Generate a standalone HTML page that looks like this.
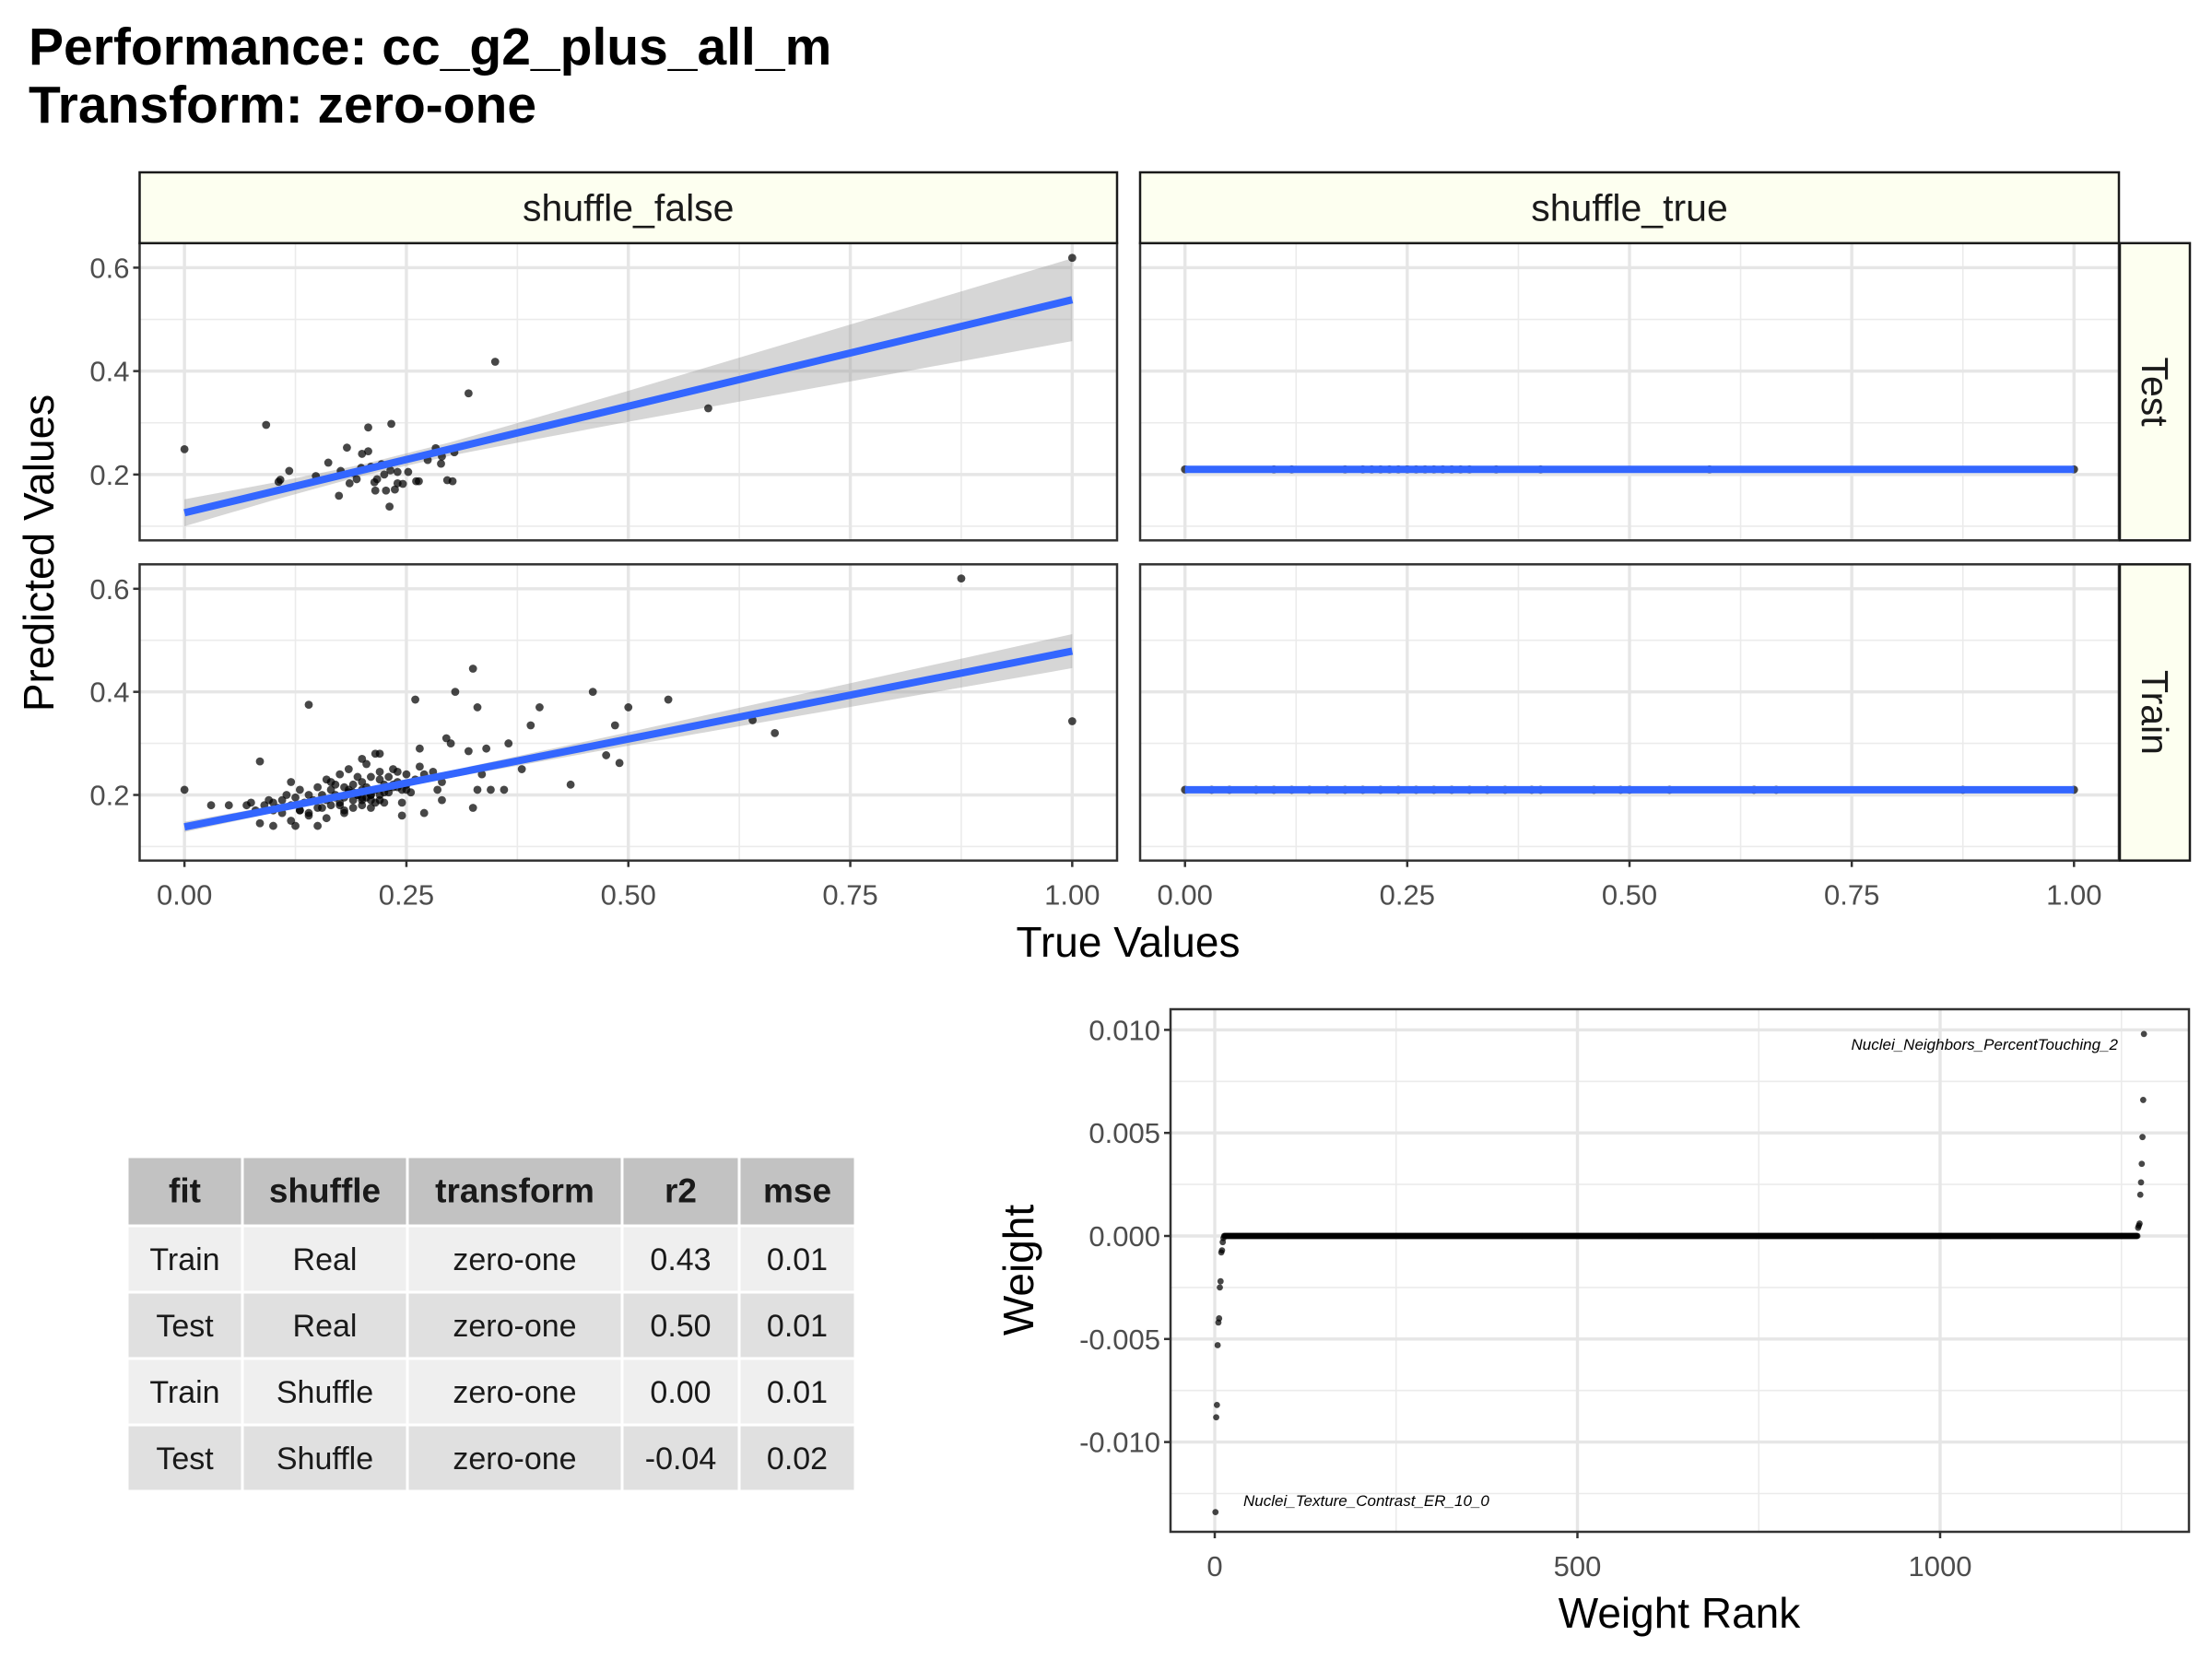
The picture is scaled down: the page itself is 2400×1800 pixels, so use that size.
<!DOCTYPE html>
<html><head><meta charset="utf-8"><style>
html,body{margin:0;padding:0;background:#fff;}
svg{display:block;font-family:"Liberation Sans",Arial,sans-serif;}
</style></head><body>
<svg id="fig" width="2400" height="1800" viewBox="0 0 2400 1800" xmlns="http://www.w3.org/2000/svg">
<rect x="0" y="0" width="2400" height="1800" fill="#fff"/>
<text x="31" y="70" font-size="57" font-weight="bold" fill="#000">Performance: cc_g2_plus_all_m</text>
<text x="31" y="133" font-size="57" font-weight="bold" fill="#000">Transform: zero-one</text>
<g id="plots"></g>
</svg>
<script>
// ---------- data ----------
const testRealX = [0,0.092,0.35,0.32,0.59,1.0,0.233,0.207,0.183,0.207,0.162,0.118,0.106,0.148,0.174,0.231,0.215,0.227,0.237,0.24,0.252,0.264,0.274,0.283,0.289,0.304,0.296,0.302,0.29,0.176,0.186,0.194,0.199,0.217,0.222,0.232,0.24,0.214,0.19,0.246,0.261,0.108,0.2,0.21,0.225];
const testRealY = [0.249,0.296,0.418,0.357,0.328,0.619,0.298,0.291,0.252,0.245,0.223,0.207,0.186,0.197,0.159,0.138,0.169,0.169,0.171,0.183,0.205,0.187,0.228,0.251,0.221,0.243,0.189,0.187,0.235,0.207,0.183,0.191,0.213,0.191,0.22,0.208,0.205,0.185,0.203,0.182,0.187,0.19,0.24,0.215,0.2];
const trainRealX = [0,0.03,0.05,0.085,0.085,0.1,0.1,0.12,0.125,0.14,0.15,0.26,0.305,0.325,0.33,0.4,0.46,0.5,0.545,0.39,0.485,0.475,0.49,0.435,0.38,0.365,0.34,0.32,0.3,0.295,0.335,0.345,0.33,0.36,0.325,0.64,0.665,0.875,1.0,0.265,0.265,0.29,0.29,0.27,0.245,0.27,0.25,
0.07,0.075,0.08,0.09,0.095,0.1,0.105,0.11,0.115,0.12,0.125,0.13,0.13,0.135,0.14,0.14,0.145,0.15,0.15,0.155,0.16,0.16,0.165,0.165,0.17,0.17,0.175,0.175,0.18,0.18,0.18,0.185,0.185,0.19,0.19,0.19,0.195,0.195,0.2,0.2,0.2,0.2,0.205,0.205,0.21,0.21,0.21,0.215,0.215,0.22,0.22,0.22,0.225,0.225,0.23,0.23,0.235,0.235,0.24,0.24,0.245,0.25,0.255,0.26,0.28,0.285,0.24,0.22,0.2,0.18,0.16,0.14,0.12,0.11,0.17,0.19,0.21,0.23,0.25,0.155,0.175,0.195,0.215,0.235,0.13,0.2,0.21,0.22,0.185,0.165,0.205,0.225,0.245];
const trainRealY = [0.21,0.18,0.18,0.265,0.145,0.14,0.17,0.225,0.14,0.375,0.14,0.385,0.40,0.445,0.37,0.37,0.40,0.37,0.385,0.335,0.335,0.277,0.262,0.22,0.25,0.30,0.29,0.285,0.30,0.31,0.24,0.21,0.21,0.21,0.175,0.345,0.32,0.62,0.343,0.29,0.255,0.225,0.19,0.165,0.16,0.24,0.24,
0.18,0.185,0.17,0.18,0.19,0.185,0.175,0.19,0.2,0.18,0.195,0.17,0.21,0.185,0.2,0.165,0.19,0.215,0.175,0.2,0.19,0.23,0.18,0.21,0.2,0.22,0.185,0.24,0.195,0.215,0.17,0.205,0.25,0.19,0.22,0.175,0.2,0.235,0.21,0.195,0.225,0.18,0.215,0.26,0.2,0.235,0.19,0.28,0.21,0.23,0.2,0.245,0.22,0.185,0.235,0.205,0.25,0.215,0.225,0.245,0.21,0.22,0.205,0.23,0.245,0.21,0.215,0.28,0.19,0.165,0.155,0.16,0.15,0.165,0.195,0.205,0.2,0.215,0.21,0.175,0.18,0.2,0.185,0.22,0.17,0.27,0.175,0.19,0.21,0.225,0.195,0.205,0.185];
const testShufX = [0,0.1,0.12,0.18,0.2,0.21,0.22,0.23,0.24,0.25,0.26,0.27,0.28,0.29,0.3,0.31,0.32,0.35,0.4,0.59,1.0];
const testShufY = [0.21,0.21,0.21,0.21,0.21,0.21,0.21,0.21,0.21,0.21,0.21,0.21,0.21,0.21,0.21,0.21,0.21,0.21,0.21,0.21,0.21];
const trainShufX = [0,0.03,0.05,0.08,0.1,0.12,0.14,0.16,0.18,0.2,0.22,0.24,0.26,0.28,0.3,0.32,0.34,0.36,0.39,0.4,0.46,0.49,0.5,0.545,0.64,0.665,0.875,1.0];
const trainShufY = [0.21,0.21,0.21,0.21,0.21,0.21,0.21,0.21,0.21,0.21,0.21,0.21,0.21,0.21,0.21,0.21,0.21,0.21,0.21,0.21,0.21,0.21,0.21,0.21,0.21,0.21,0.21,0.21];
const fitX = [0,0.1,0.2,0.3,0.4,0.5,0.6,0.7,0.8,0.9,1.0];
const fitTestReal = [0.126,0.538];
const seTestReal = [0.026,0.017,0.011,0.013,0.021,0.030,0.040,0.050,0.060,0.070,0.080];
const fitTrainReal = [0.138,0.479];
const seTrainReal = [0.010,0.007,0.006,0.007,0.010,0.013,0.017,0.021,0.025,0.029,0.033];
const fitTestShuf = [0.21,0.21];
const fitTrainShuf = [0.21,0.21];
const xTicks = [0,0.25,0.5,0.75,1.0];
const xTickLabels = ["0.00","0.25","0.50","0.75","1.00"];
const yTicks = [0.2,0.4,0.6];
const yTickLabels = ["0.2","0.4","0.6"];
const tableHeader = ["fit","shuffle","transform","r2","mse"];
const tableRows = [["Train","Real","zero-one","0.43","0.01"],["Test","Real","zero-one","0.50","0.01"],["Train","Shuffle","zero-one","0.00","0.01"],["Test","Shuffle","zero-one","-0.04","0.02"]];
const weightsNeg = [-0.0134,-0.0088,-0.0082,-0.0053,-0.0042,-0.0040,-0.0025,-0.0022,-0.0008,-0.0007,-0.0003,-0.0001];
const nZeroWeights = 1260;
const weightsPos = [0.0004,0.0005,0.0006,0.0020,0.0026,0.0035,0.0048,0.0066,0.0098];
const wYTicks = [-0.01,-0.005,0,0.005,0.01];
const wYTickLabels = ["-0.010","-0.005","0.000","0.005","0.010"];
const wXTicks = [0,500,1000];
const wXTickLabels = ["0","500","1000"];

// ---------- drawing ----------
const NS = "http://www.w3.org/2000/svg";
const root = document.getElementById('plots');
function mk(tag, attrs, parent){const e=document.createElementNS(NS,tag);for(const k in attrs)e.setAttribute(k,attrs[k]);(parent||root).appendChild(e);return e;}
const TICK=31;
const Y0=0.0727, Y1=0.6474;
function panel(px0,px1,py0,py1,xs,ys,fit,se,name,showY,showX){
  const g=mk('g',{});
  
  
  const sx=v=>px0+(v+0.0505)/(1.101)*(px1-px0);
  const sy=v=>py1-(v-Y0)/(Y1-Y0)*(py1-py0);
  mk('rect',{x:px0,y:py0,width:px1-px0,height:py1-py0,fill:'#fff'},g);
  [0.125,0.375,0.625,0.875].forEach(v=>mk('line',{x1:sx(v),x2:sx(v),y1:py0,y2:py1,stroke:'#ebebeb','stroke-width':1.6},g));
  [0.1,0.3,0.5].forEach(v=>mk('line',{x1:px0,x2:px1,y1:sy(v),y2:sy(v),stroke:'#ebebeb','stroke-width':1.6},g));
  xTicks.forEach(v=>mk('line',{x1:sx(v),x2:sx(v),y1:py0,y2:py1,stroke:'#e6e6e6','stroke-width':3.4},g));
  yTicks.forEach(v=>mk('line',{x1:px0,x2:px1,y1:sy(v),y2:sy(v),stroke:'#e6e6e6','stroke-width':3.4},g));
  const fy=x=>fit[0]+(fit[1]-fit[0])*x;
  if(se){
    let d='';
    fitX.forEach((x,i)=>{d+=(i?'L':'M')+sx(x)+','+sy(fy(x)+se[i]);});
    for(let i=fitX.length-1;i>=0;i--){d+='L'+sx(fitX[i])+','+sy(fy(fitX[i])-se[i]);}
    const band=mk('path',{d:d+'Z',fill:'#999','fill-opacity':0.4},g);
    
    
  }
  xs.forEach((x,i)=>{
    const c=mk('circle',{cx:sx(x),cy:sy(ys[i]),r:4.4,fill:'#000','fill-opacity':0.72},g);
    
    
  });
  const ln=mk('line',{x1:sx(0),y1:sy(fy(0)),x2:sx(1),y2:sy(fy(1)),stroke:'#3366FF','stroke-width':8},g);
  
  
  mk('rect',{x:px0,y:py0,width:px1-px0,height:py1-py0,fill:'none',stroke:'#333','stroke-width':2.5},g);
  if(showY){
    yTicks.forEach((v,i)=>{
      mk('line',{x1:px0-7,x2:px0,y1:sy(v),y2:sy(v),stroke:'#333','stroke-width':2.5},g);
      const t=mk('text',{x:px0-11,y:sy(v)+11,'text-anchor':'end','font-size':TICK,fill:'#4d4d4d'},g);
      t.textContent=yTickLabels[i];
      
      
    });
  }
  if(showX){
    xTicks.forEach((v,i)=>{
      mk('line',{x1:sx(v),x2:sx(v),y1:py1,y2:py1+7,stroke:'#333','stroke-width':2.5},g);
      const t=mk('text',{x:sx(v),y:py1+48,'text-anchor':'middle','font-size':TICK,fill:'#4d4d4d'},g);
      t.textContent=xTickLabels[i];
      
      
    });
  }
}
const LX0=151.5,LX1=1212,RX0=1237,RX1=2299,TY0=263.8,TY1=586.3,BY0=612.3,BY1=933.7;
panel(LX0,LX1,TY0,TY1,testRealX,testRealY,fitTestReal,seTestReal,'panel-test-shuffle-false',true,false);
panel(LX0,LX1,BY0,BY1,trainRealX,trainRealY,fitTrainReal,seTrainReal,'panel-train-shuffle-false',true,true);
panel(RX0,RX1,TY0,TY1,testShufX,testShufY,fitTestShuf,null,'panel-test-shuffle-true',false,false);
panel(RX0,RX1,BY0,BY1,trainShufX,trainShufY,fitTrainShuf,null,'panel-train-shuffle-true',false,true);

function strip(x,y,w,h,label,name,rot){
  const g=mk('g',{});
  
  
  mk('rect',{x:x,y:y,width:w,height:h,fill:'#FDFFF0',stroke:'#1a1a1a','stroke-width':2.5},g);
  const cx=x+w/2, cy=y+h/2;
  const t=mk('text',{x:cx,y:cy+14,'text-anchor':'middle','font-size':41,fill:'#1a1a1a'},g);
  if(rot){t.setAttribute('transform','rotate(90 '+cx+' '+cy+')');}
  t.textContent=label;
}
strip(LX0,187,LX1-LX0,76.8,'shuffle_false','strip-shuffle-false',false);
strip(RX0,187,RX1-RX0,76.8,'shuffle_true','strip-shuffle-true',false);
strip(RX1+1,TY0,76,TY1-TY0,'Test','strip-test',true);
strip(RX1+1,BY0,76,BY1-BY0,'Train','strip-train',true);

let t=mk('text',{x:1224,y:1038,'text-anchor':'middle','font-size':46,fill:'#000'});
t.textContent='True Values';


t=mk('text',{x:0,y:0,'text-anchor':'middle','font-size':46,fill:'#000',transform:'translate(58,600) rotate(-90)'});
t.textContent='Predicted Values';



// table
const colX=[138,263,442,675,802,928];
const rowY=[1255,1330,1402,1474,1546,1618];
const tg=mk('g',{});


for(let r=0;r<5;r++){
  for(let c=0;c<5;c++){
    const fill=r===0?'#c2c2c2':(r%2===1?'#efefef':'#e0e0e0');
    mk('rect',{x:colX[c]+1.5,y:rowY[r]+1.5,width:colX[c+1]-colX[c]-3,height:rowY[r+1]-rowY[r]-3,fill:fill},tg);
    const cell=mk('text',{x:(colX[c]+colX[c+1])/2,y:(rowY[r]+rowY[r+1])/2+12,'text-anchor':'middle','font-size':r===0?37:34,'font-weight':r===0?'bold':'normal',fill:'#1a1a1a'},tg);
    cell.textContent=r===0?tableHeader[c]:tableRows[r-1][c];
    
    
  }
}

// weight plot
const WX0=1270,WX1=2375,WY0=1095,WY1=1662;
const wsx=v=>1318+v*0.787;
const wsy=v=>1341-v*22360;
const wg=mk('g',{});


mk('rect',{x:WX0,y:WY0,width:WX1-WX0,height:WY1-WY0,fill:'#fff'},wg);
[250,750,1250].forEach(v=>mk('line',{x1:wsx(v),x2:wsx(v),y1:WY0,y2:WY1,stroke:'#ebebeb','stroke-width':1.6},wg));
[-0.0125,-0.0075,-0.0025,0.0025,0.0075].forEach(v=>mk('line',{x1:WX0,x2:WX1,y1:wsy(v),y2:wsy(v),stroke:'#ebebeb','stroke-width':1.6},wg));
wXTicks.forEach(v=>mk('line',{x1:wsx(v),x2:wsx(v),y1:WY0,y2:WY1,stroke:'#e6e6e6','stroke-width':3.4},wg));
wYTicks.forEach(v=>mk('line',{x1:WX0,x2:WX1,y1:wsy(v),y2:wsy(v),stroke:'#e6e6e6','stroke-width':3.4},wg));
const weights=weightsNeg.concat(new Array(nZeroWeights).fill(0),weightsPos);
weights.forEach((w,i)=>{
  const c=mk('circle',{cx:wsx(i+1),cy:wsy(w),r:3.4,fill:'#000','fill-opacity':0.72},wg);
  
  
});
mk('rect',{x:WX0,y:WY0,width:WX1-WX0,height:WY1-WY0,fill:'none',stroke:'#333','stroke-width':2.5},wg);
wYTicks.forEach((v,i)=>{
  mk('line',{x1:WX0-7,x2:WX0,y1:wsy(v),y2:wsy(v),stroke:'#333','stroke-width':2.5},wg);
  const l=mk('text',{x:WX0-11,y:wsy(v)+11,'text-anchor':'end','font-size':TICK,fill:'#4d4d4d'},wg);
  l.textContent=wYTickLabels[i];
  
  
});
wXTicks.forEach((v,i)=>{
  mk('line',{x1:wsx(v),x2:wsx(v),y1:WY1,y2:WY1+7,stroke:'#333','stroke-width':2.5},wg);
  const l=mk('text',{x:wsx(v),y:WY1+48,'text-anchor':'middle','font-size':TICK,fill:'#4d4d4d'},wg);
  l.textContent=wXTickLabels[i];
  
  
});
t=mk('text',{x:1349,y:1634,'font-size':17,'font-style':'italic',fill:'#000'},wg);
t.textContent='Nuclei_Texture_Contrast_ER_10_0';


t=mk('text',{x:2298,y:1139,'font-size':17,'font-style':'italic','text-anchor':'end',fill:'#000'},wg);
t.textContent='Nuclei_Neighbors_PercentTouching_2';


t=mk('text',{x:1822,y:1766,'text-anchor':'middle','font-size':46,fill:'#000'},wg);
t.textContent='Weight Rank';


t=mk('text',{x:0,y:0,'text-anchor':'middle','font-size':46,fill:'#000',transform:'translate(1121,1378) rotate(-90)'},wg);
t.textContent='Weight';


</script>
</body></html>
